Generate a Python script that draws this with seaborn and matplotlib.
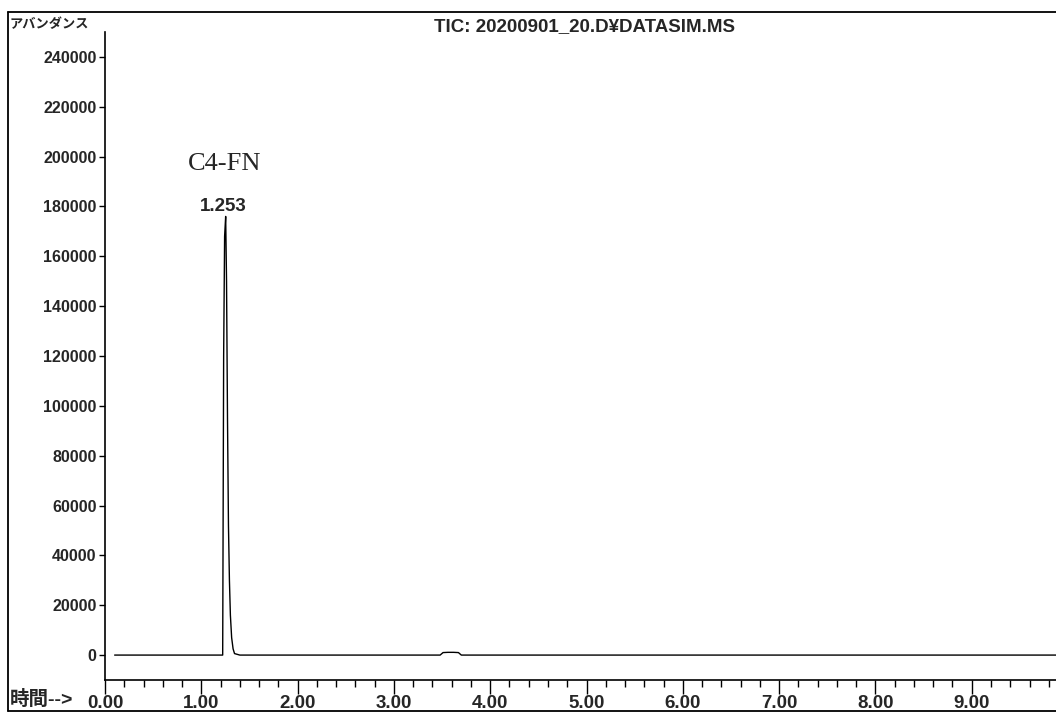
import numpy as np
import pandas as pd
import matplotlib
matplotlib.use("Agg")
import matplotlib.pyplot as plt
from matplotlib.lines import Line2D
from matplotlib.ticker import MultipleLocator, FuncFormatter
import seaborn as sns

# Total ion chromatogram (retention time in minutes, abundance counts)
time_min = [0.10, 1.200, 1.222, 1.232, 1.242, 1.253, 1.262, 1.272, 1.282,
            1.292, 1.302, 1.315, 1.330, 1.345, 1.400,
            3.480, 3.510, 3.560, 3.620, 3.670, 3.700, 9.875]
abundance = [0, 0, 0, 120000, 168000, 176000, 150000, 95000, 52000,
             30000, 16000, 7000, 2500, 600, 0,
             0, 1000, 1100, 1100, 1000, 0, 0]

peak_time = 1.253
peak_height = 176000
peak_name = "C4-FN"

title = "TIC: 20200901_20.D\u00a5DATASIM.MS"
y_label = "アバンダンス"
x_label = "時間-->"
y_ticks = [0, 20000, 40000, 60000, 80000, 100000, 120000, 140000,
           160000, 180000, 200000, 220000, 240000]
x_ticks = [0, 1, 2, 3, 4, 5, 6, 7, 8, 9]

df = pd.DataFrame({"time": time_min, "abundance": abundance})

sns.set_style("white")
plt.rcParams["font.family"] = ["Liberation Sans", "Noto Sans CJK JP"]

W, H = 1056, 713
fig = plt.figure(figsize=(W / 100, H / 100), dpi=100)

def fx(px):
    return px / W

def fy(py):
    return 1 - py / H

ax_left, ax_right, ax_top, ax_bottom = 105, 1056, 32, 680
ax = fig.add_axes([fx(ax_left), fy(ax_bottom),
                   fx(ax_right - ax_left), (ax_bottom - ax_top) / H])

sns.lineplot(data=df, x="time", y="abundance", ax=ax, color="black",
             linewidth=1.0, estimator=None, sort=False)

ax.set_xlim(0, 9.875)
ax.set_ylim(-10000, 250000)
ax.set_xlabel("")
ax.set_ylabel("")

for side in ("top", "right"):
    ax.spines[side].set_visible(False)
for side in ("left", "bottom"):
    ax.spines[side].set_color("black")
    ax.spines[side].set_linewidth(1.2)

ax.set_xticks(x_ticks)
ax.xaxis.set_minor_locator(MultipleLocator(0.2))
ax.xaxis.set_major_formatter(FuncFormatter(lambda v, p: f"{v:.2f}"))
ax.set_yticks(y_ticks)
ax.yaxis.set_major_formatter(FuncFormatter(lambda v, p: f"{int(v)}"))

ax.tick_params(axis="x", which="major", direction="out", length=10,
               width=1.0, labelsize=13.5, pad=1, color="black",
               bottom=True)
ax.tick_params(axis="x", which="minor", direction="out", length=5,
               width=1.0, color="black", bottom=True)
ax.tick_params(axis="y", which="major", direction="out", length=4,
               width=1.0, labelsize=11.5, pad=2, color="black", left=True)
for lbl in ax.get_xticklabels() + ax.get_yticklabels():
    lbl.set_fontweight("bold")

# Peak annotations
ax.annotate(f"{peak_time:.3f}", xy=(peak_time, peak_height),
            xytext=(-2, 1), textcoords="offset points",
            ha="center", va="bottom", fontsize=13.5, fontweight="bold")
ax.annotate(peak_name, xy=(peak_time, peak_height),
            xytext=(-1, 30), textcoords="offset points",
            ha="center", va="bottom", fontsize=19,
            family="Liberation Serif")

# Outer frame of the report page
frame_kw = dict(color="black", linewidth=1.3, transform=fig.transFigure)
fig.add_artist(Line2D([fx(8), fx(8)], [fy(12), fy(711)], **frame_kw))
fig.add_artist(Line2D([fx(8), fx(1056)], [fy(12), fy(12)], **frame_kw))
fig.add_artist(Line2D([fx(8), fx(1056)], [fy(711), fy(711)], **frame_kw))

fig.text(fx(584), fy(27), title, ha="center", va="center",
         fontsize=13.5, fontweight="bold")
fig.text(fx(10), fy(25), y_label, ha="left", va="center", fontsize=9.5,
         fontweight="bold")
fig.text(fx(10), fy(699), x_label, ha="left", va="center", fontsize=14,
         fontweight="bold")

fig.savefig("out.png", dpi=100, facecolor="white")
